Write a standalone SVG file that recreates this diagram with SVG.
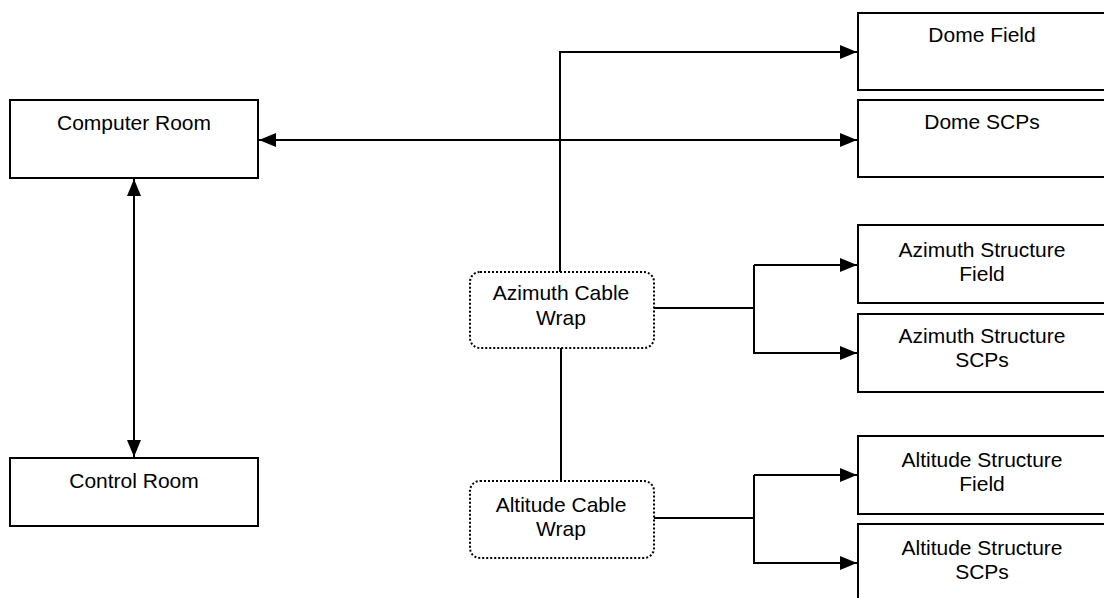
<svg xmlns="http://www.w3.org/2000/svg" width="1104" height="598" viewBox="0 0 1104 598">
<style>
.box{fill:#fff;stroke:#000;stroke-width:2}
.wrap{fill:#fff;stroke:#000;stroke-width:2;stroke-dasharray:2 2}
.ln{fill:none;stroke:#000;stroke-width:2}
text{font-family:"Liberation Sans",Arial,sans-serif;font-size:21px;fill:#000;text-anchor:middle}
</style>
<defs>
<marker id="ah" viewBox="0 0 17 14" refX="17" refY="7" markerWidth="17" markerHeight="14" markerUnits="userSpaceOnUse" orient="auto-start-reverse">
<path d="M0,0 L17,7 L0,14 Z" fill="#000"/>
</marker>
</defs>
<rect width="1104" height="598" fill="#fff"/>
<g id="connectors">
<path class="ln" d="M259,140 L857,140" marker-start="url(#ah)" marker-end="url(#ah)"/>
<path class="ln" d="M560,272 L560,52 L857,52" marker-end="url(#ah)"/>
<path class="ln" d="M134,179 L134,457" marker-start="url(#ah)" marker-end="url(#ah)"/>
<path class="ln" d="M654,308 L754,308"/>
<path class="ln" d="M754,265 L857,265" marker-end="url(#ah)"/>
<path class="ln" d="M754,265 L754,353 L857,353" marker-end="url(#ah)"/>
<path class="ln" d="M561,348 L561,481"/>
<path class="ln" d="M654,518 L754,518"/>
<path class="ln" d="M754,475 L857,475" marker-end="url(#ah)"/>
<path class="ln" d="M754,475 L754,563 L857,563" marker-end="url(#ah)"/>
</g>
<g id="computer-room">
<rect class="box" x="10" y="100" width="248" height="78"/>
<text x="134" y="130">Computer Room</text>
</g>
<g id="control-room">
<rect class="box" x="10" y="458" width="248" height="68"/>
<text x="134" y="488">Control Room</text>
</g>
<g id="dome-field">
<rect class="box" x="858" y="13" width="250" height="77"/>
<text x="982" y="42">Dome Field</text>
</g>
<g id="dome-scps">
<rect class="box" x="858" y="100" width="250" height="77"/>
<text x="982" y="129">Dome SCPs</text>
</g>
<g id="azimuth-cable-wrap">
<rect class="wrap" x="470" y="272" width="184" height="76" rx="10"/>
<text x="561" y="300">Azimuth Cable</text>
<text x="561" y="325">Wrap</text>
</g>
<g id="altitude-cable-wrap">
<rect class="wrap" x="470" y="481" width="184" height="77" rx="10"/>
<text x="561" y="512">Altitude Cable</text>
<text x="561" y="536">Wrap</text>
</g>
<g id="azimuth-structure-field">
<rect class="box" x="858" y="225" width="250" height="78"/>
<text x="982" y="257">Azimuth Structure</text>
<text x="982" y="281">Field</text>
</g>
<g id="azimuth-structure-scps">
<rect class="box" x="858" y="314" width="250" height="78"/>
<text x="982" y="343">Azimuth Structure</text>
<text x="982" y="367">SCPs</text>
</g>
<g id="altitude-structure-field">
<rect class="box" x="858" y="436" width="250" height="78"/>
<text x="982" y="467">Altitude Structure</text>
<text x="982" y="491">Field</text>
</g>
<g id="altitude-structure-scps">
<rect class="box" x="858" y="524" width="250" height="80"/>
<text x="982" y="555">Altitude Structure</text>
<text x="982" y="579">SCPs</text>
</g>
</svg>
